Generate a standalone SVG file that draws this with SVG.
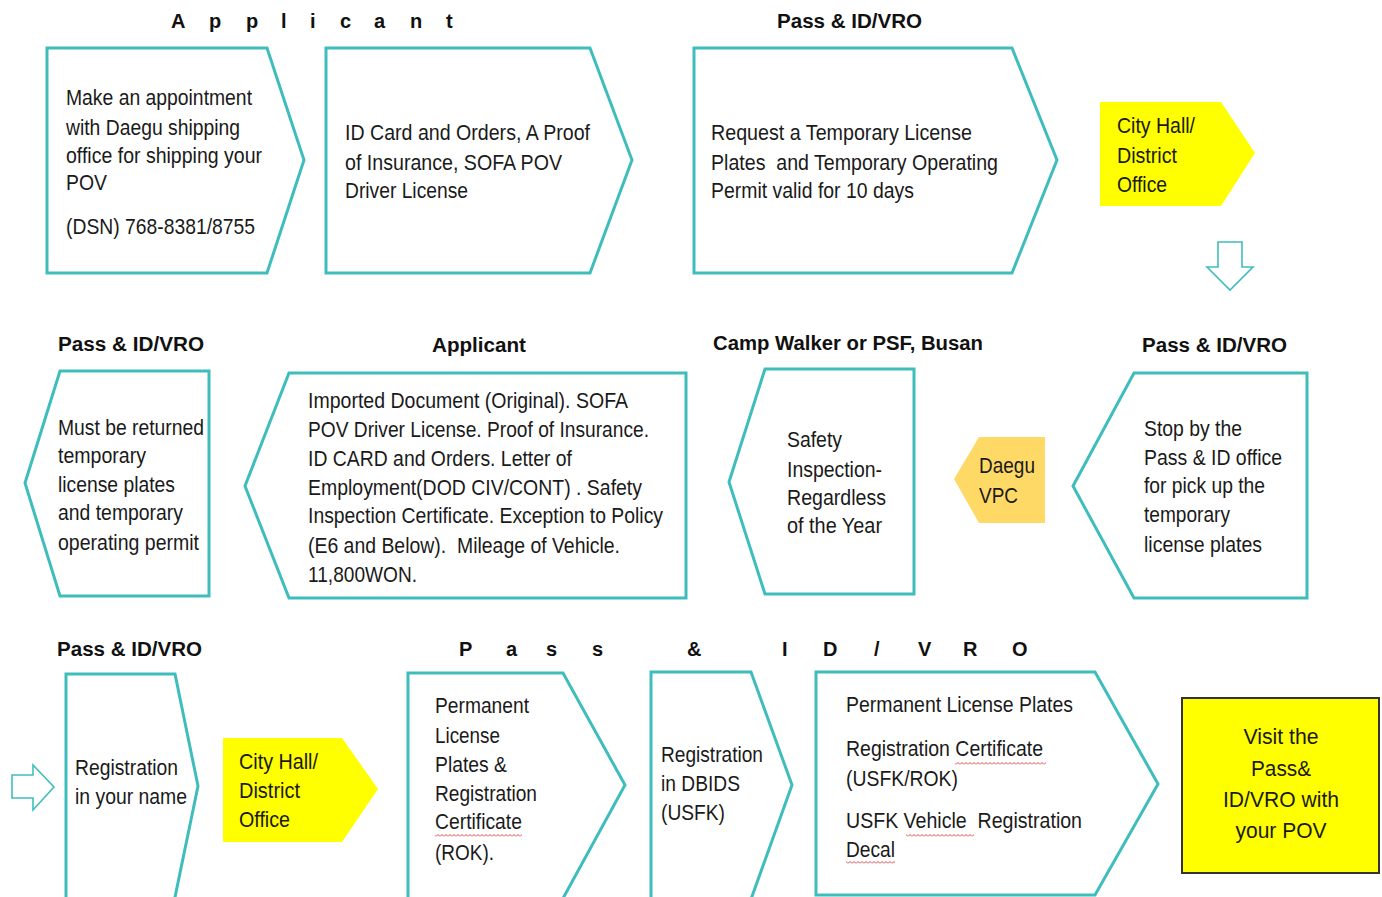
<svg xmlns="http://www.w3.org/2000/svg" width="1382" height="897" viewBox="0 0 1382 897">
<style>
.box{fill:#fff;stroke:#3fbdbd;stroke-width:3;stroke-linejoin:miter}
.yel{fill:#ffff00;stroke:none}
.gold{fill:#ffd966;stroke:none}
.hollow{fill:#fff;stroke:#3fbdbd;stroke-width:1.6}
.t{font-family:"Liberation Sans",Arial,sans-serif;font-size:22px;fill:#1a1a1a}
.h{font-family:"Liberation Sans",Arial,sans-serif;font-size:20px;font-weight:bold;fill:#111}
.sq{fill:url(#squig)}
</style>
<defs>
<pattern id="squig" width="4" height="3" patternUnits="userSpaceOnUse">
<path d="M0,2.5 L2,0.5 L4,2.5" fill="none" stroke="#e03030" stroke-width="0.9"/>
</pattern>
</defs>
<rect width="1382" height="897" fill="#fff"/>

<g id="headers">
<text class="h" x="171 209 246 281 310 340 374 410 446" y="28">Applicant</text>
<text class="h" x="777" y="28" textLength="145" lengthAdjust="spacingAndGlyphs">Pass &amp; ID/VRO</text>
<text class="h" x="58" y="351" textLength="146" lengthAdjust="spacingAndGlyphs">Pass &amp; ID/VRO</text>
<text class="h" x="432" y="352" textLength="94" lengthAdjust="spacingAndGlyphs">Applicant</text>
<text class="h" x="713" y="350" textLength="270" lengthAdjust="spacingAndGlyphs">Camp Walker or PSF, Busan</text>
<text class="h" x="1142" y="352" textLength="145" lengthAdjust="spacingAndGlyphs">Pass &amp; ID/VRO</text>
<text class="h" x="57" y="656" textLength="145" lengthAdjust="spacingAndGlyphs">Pass &amp; ID/VRO</text>
<text class="h" x="459 506 546 592 620 687 740 782 823 874 918 963 1012" y="656">Pass &amp; ID/VRO</text>
</g>

<g id="connectors">
<polygon class="hollow" points="1218,242 1242,242 1242,267 1253,267 1230,290 1207,267 1218,267"/>
<polygon class="hollow" points="12,775 33,775 33,765 54,787 33,810 33,798 12,798"/>
</g>

<g id="n1">
<polygon class="box" points="47,48 267,48 304,160 267,273 47,273"/>
<text class="t" x="66" y="105" textLength="186" lengthAdjust="spacingAndGlyphs">Make an appointment</text>
<text class="t" x="66" y="135" textLength="174" lengthAdjust="spacingAndGlyphs">with Daegu shipping</text>
<text class="t" x="66" y="163" textLength="196" lengthAdjust="spacingAndGlyphs">office for shipping your</text>
<text class="t" x="66" y="190" textLength="41" lengthAdjust="spacingAndGlyphs">POV</text>
<text class="t" x="66" y="234" textLength="189" lengthAdjust="spacingAndGlyphs">(DSN) 768-8381/8755</text>
</g>

<g id="n2">
<polygon class="box" points="326,48 590,48 632,160 590,273 326,273"/>
<text class="t" x="345" y="140" textLength="245" lengthAdjust="spacingAndGlyphs">ID Card and Orders, A Proof</text>
<text class="t" x="345" y="170" textLength="217" lengthAdjust="spacingAndGlyphs">of Insurance, SOFA POV</text>
<text class="t" x="345" y="198" textLength="123" lengthAdjust="spacingAndGlyphs">Driver License</text>
</g>

<g id="n3">
<polygon class="box" points="694,48 1012,48 1057,160 1012,273 694,273"/>
<text class="t" x="711" y="140" textLength="261" lengthAdjust="spacingAndGlyphs">Request a Temporary License</text>
<text class="t" x="711" y="170" textLength="287" lengthAdjust="spacingAndGlyphs" xml:space="preserve">Plates  and Temporary Operating</text>
<text class="t" x="711" y="198" textLength="203" lengthAdjust="spacingAndGlyphs">Permit valid for 10 days</text>
</g>

<g id="n4">
<polygon class="yel" points="1100,102 1221,102 1255,153 1221,206 1100,206"/>
<text class="t" x="1117" y="133" textLength="78" lengthAdjust="spacingAndGlyphs">City Hall/</text>
<text class="t" x="1117" y="163" textLength="60" lengthAdjust="spacingAndGlyphs">District</text>
<text class="t" x="1117" y="192" textLength="50" lengthAdjust="spacingAndGlyphs">Office</text>
</g>

<g id="n5">
<polygon class="box" points="1134,373 1307,373 1307,598 1134,598 1073,486"/>
<text class="t" x="1144" y="436" textLength="98" lengthAdjust="spacingAndGlyphs">Stop by the</text>
<text class="t" x="1144" y="465" textLength="138" lengthAdjust="spacingAndGlyphs">Pass &amp; ID office</text>
<text class="t" x="1144" y="493" textLength="121" lengthAdjust="spacingAndGlyphs">for pick up the</text>
<text class="t" x="1144" y="522" textLength="86" lengthAdjust="spacingAndGlyphs">temporary</text>
<text class="t" x="1144" y="552" textLength="118" lengthAdjust="spacingAndGlyphs">license plates</text>
</g>

<g id="n6">
<polygon class="gold" points="979,437 1045,437 1045,523 979,523 954,479"/>
<text class="t" x="979" y="473" textLength="56" lengthAdjust="spacingAndGlyphs">Daegu</text>
<text class="t" x="979" y="503" textLength="39" lengthAdjust="spacingAndGlyphs">VPC</text>
</g>

<g id="n7">
<polygon class="box" points="765,369 914,369 914,594 765,594 729,482"/>
<text class="t" x="787" y="447" textLength="55" lengthAdjust="spacingAndGlyphs">Safety</text>
<text class="t" x="787" y="477" textLength="95" lengthAdjust="spacingAndGlyphs">Inspection-</text>
<text class="t" x="787" y="505" textLength="99" lengthAdjust="spacingAndGlyphs">Regardless</text>
<text class="t" x="787" y="533" textLength="95" lengthAdjust="spacingAndGlyphs">of the Year</text>
</g>

<g id="n8">
<polygon class="box" points="289,373 686,373 686,598 289,598 245,486"/>
<text class="t" x="308" y="408" textLength="320" lengthAdjust="spacingAndGlyphs">Imported Document (Original). SOFA</text>
<text class="t" x="308" y="437" textLength="341" lengthAdjust="spacingAndGlyphs">POV Driver License. Proof of Insurance.</text>
<text class="t" x="308" y="466" textLength="264" lengthAdjust="spacingAndGlyphs">ID CARD and Orders. Letter of</text>
<text class="t" x="308" y="495" textLength="334" lengthAdjust="spacingAndGlyphs">Employment(DOD CIV/CONT) . Safety</text>
<text class="t" x="308" y="523" textLength="355" lengthAdjust="spacingAndGlyphs">Inspection Certificate. Exception to Policy</text>
<text class="t" x="308" y="553" textLength="312" lengthAdjust="spacingAndGlyphs" xml:space="preserve">(E6 and Below).  Mileage of Vehicle.</text>
<text class="t" x="308" y="582" textLength="109" lengthAdjust="spacingAndGlyphs">11,800WON.</text>
</g>

<g id="n9">
<polygon class="box" points="60,371 209,371 209,596 60,596 25,483"/>
<text class="t" x="58" y="435" textLength="146" lengthAdjust="spacingAndGlyphs">Must be returned</text>
<text class="t" x="58" y="463" textLength="88" lengthAdjust="spacingAndGlyphs">temporary</text>
<text class="t" x="58" y="492" textLength="117" lengthAdjust="spacingAndGlyphs">license plates</text>
<text class="t" x="58" y="520" textLength="125" lengthAdjust="spacingAndGlyphs">and temporary</text>
<text class="t" x="58" y="550" textLength="141" lengthAdjust="spacingAndGlyphs">operating permit</text>
</g>

<g id="n10">
<polygon class="box" points="66,674 175,674 198,786 174,902 66,902"/>
<text class="t" x="75" y="775" textLength="103" lengthAdjust="spacingAndGlyphs">Registration</text>
<text class="t" x="75" y="804" textLength="112" lengthAdjust="spacingAndGlyphs">in your name</text>
</g>

<g id="n11">
<polygon class="yel" points="223,738 342,738 378,789 342,842 223,842"/>
<text class="t" x="239" y="769" textLength="79" lengthAdjust="spacingAndGlyphs">City Hall/</text>
<text class="t" x="239" y="798" textLength="61" lengthAdjust="spacingAndGlyphs">District</text>
<text class="t" x="239" y="827" textLength="51" lengthAdjust="spacingAndGlyphs">Office</text>
</g>

<g id="n12">
<polygon class="box" points="408,673 563,673 625,785 561,902 408,902"/>
<text class="t" x="435" y="713" textLength="94" lengthAdjust="spacingAndGlyphs">Permanent</text>
<text class="t" x="435" y="743" textLength="65" lengthAdjust="spacingAndGlyphs">License</text>
<text class="t" x="435" y="772" textLength="72" lengthAdjust="spacingAndGlyphs">Plates &amp;</text>
<text class="t" x="435" y="801" textLength="102" lengthAdjust="spacingAndGlyphs">Registration</text>
<text class="t" x="435" y="829" textLength="87" lengthAdjust="spacingAndGlyphs">Certificate</text>
<text class="t" x="435" y="860" textLength="59" lengthAdjust="spacingAndGlyphs">(ROK).</text>
<rect class="sq" x="435" y="834" width="87" height="3"/>
</g>

<g id="n13">
<polygon class="box" points="651,672 751,672 792,785 750,902 651,902"/>
<text class="t" x="661" y="762" textLength="102" lengthAdjust="spacingAndGlyphs">Registration</text>
<text class="t" x="661" y="791" textLength="79" lengthAdjust="spacingAndGlyphs">in DBIDS</text>
<text class="t" x="661" y="820" textLength="64" lengthAdjust="spacingAndGlyphs">(USFK)</text>
</g>

<g id="n14">
<polygon class="box" points="816,672 1095,672 1158,784 1095,895 816,895"/>
<text class="t" x="846" y="712" textLength="227" lengthAdjust="spacingAndGlyphs">Permanent License Plates</text>
<text class="t" x="846" y="756" textLength="197" lengthAdjust="spacingAndGlyphs">Registration Certificate</text>
<text class="t" x="846" y="786" textLength="112" lengthAdjust="spacingAndGlyphs">(USFK/ROK)</text>
<text class="t" x="846" y="828" textLength="236" lengthAdjust="spacingAndGlyphs" xml:space="preserve">USFK Vehicle  Registration</text>
<text class="t" x="846" y="857" textLength="49" lengthAdjust="spacingAndGlyphs">Decal</text>
<rect class="sq" x="955" y="762" width="91" height="3"/>
<rect class="sq" x="906" y="834" width="68" height="3"/>
<rect class="sq" x="846" y="861" width="49" height="3"/>
</g>

<g id="n15">
<rect x="1182" y="698" width="197" height="175" fill="#ffff00" stroke="#333" stroke-width="2"/>
<text class="t" x="1281" y="744" text-anchor="middle" font-size="23" textLength="75" lengthAdjust="spacingAndGlyphs">Visit the</text>
<text class="t" x="1281" y="776" text-anchor="middle" font-size="23" textLength="60" lengthAdjust="spacingAndGlyphs">Pass&amp;</text>
<text class="t" x="1281" y="807" text-anchor="middle" font-size="23" textLength="116" lengthAdjust="spacingAndGlyphs">ID/VRO with</text>
<text class="t" x="1281" y="838" text-anchor="middle" font-size="23" textLength="91" lengthAdjust="spacingAndGlyphs">your POV</text>
</g>
</svg>
